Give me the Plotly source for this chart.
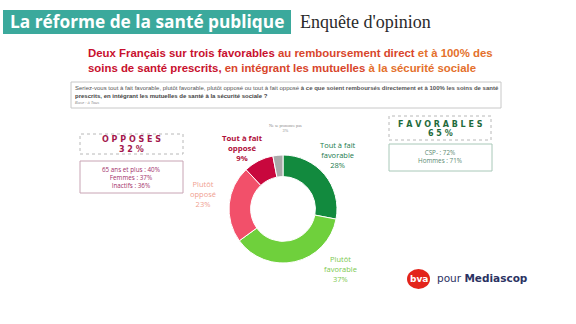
import plotly.graph_objects as go

W, H = 576, 324

# ---- data ----
categories = ["Tout à fait favorable", "Plutôt favorable", "Plutôt opposé",
              "Tout à fait opposé", "Ne se prononce pas"]
values = [28, 37, 23, 9, 3]
slice_colors = ["#128a3e", "#6fd03c", "#f2506a", "#c8073d", "#a9a9a9"]
opposes_total = 32
favorables_total = 65
opposes_details = ["65 ans et plus : 40%", "Femmes : 37%", "Inactifs : 36%"]
favorables_details = ["CSP- : 72%", "Hommes : 71%"]


def px(x):
    return x / W


def py(y):
    return 1 - y / H


fig = go.Figure()
fig.add_trace(go.Pie(
    labels=categories, values=values, hole=0.6, sort=False,
    direction="clockwise", rotation=0,
    marker=dict(colors=slice_colors, line=dict(color="white", width=1)),
    textinfo="none", hoverinfo="label+percent", showlegend=False,
    domain=dict(x=[px(229), px(337)], y=[py(263), py(155)]),
))

shapes = []
ann = []


def rect(x0, y0, x1, y1, line="#c0c0c0", dash="solid", fill="rgba(0,0,0,0)", width=1):
    shapes.append(dict(type="rect", xref="paper", yref="paper",
                       x0=px(x0), x1=px(x1), y0=py(y1), y1=py(y0),
                       line=dict(color=line, width=width, dash=dash),
                       fillcolor=fill, layer="below"))


def text(x, y, t, size, color, family="Liberation Sans", xanchor="center"):
    ann.append(dict(x=px(x), y=py(y), xref="paper", yref="paper", text=t,
                    showarrow=False, xanchor=xanchor, yanchor="middle",
                    font=dict(size=size, color=color, family=family)))


# header
rect(3, 10, 291, 34, line="#3ba99c", fill="#3ba99c", width=0)
text(147, 22, "<b>La réforme de la santé publique</b>", 17.3, "white", "Open Sans")
text(298, 22, "Enquête d'opinion", 18, "#2a2a2a", "Liberation Serif", xanchor="left")

# headline
red, mid, org = "#c8102e", "#d8452b", "#e4702c"
line1 = (f"<span style='color:{red}'>Deux Français sur trois favorables</span> "
         f"<span style='color:{mid}'>au remboursement direct</span> "
         f"<span style='color:{org}'>et à 100% des</span>")
line2 = (f"<span style='color:{red}'>soins de santé prescrits,</span> "
         f"<span style='color:{mid}'>en intégrant les mutuelles</span> "
         f"<span style='color:{org}'>à la sécurité sociale</span>")
text(86, 53, f"<b>{line1}</b>", 11.4, red, "Liberation Sans", xanchor="left")
text(86, 68, f"<b>{line2}</b>", 11.4, red, "Liberation Sans", xanchor="left")

# question box
rect(71, 82, 501, 108, line="#c8c8c8")
q1 = ("Seriez-vous tout à fait favorable, plutôt favorable, plutôt opposé ou tout à fait opposé "
      "<b>à ce que soient remboursés directement et à 100% les soins de santé</b>")
text(73, 88, q1, 6, "#555555", xanchor="left")
text(73, 96, "<b>prescrits, en intégrant les mutuelles de santé à la sécurité sociale ?</b>",
     6, "#444444", xanchor="left")
text(73, 102.5, "<i>Base : à Tous</i>", 4, "#888888", xanchor="left")

# OPPOSES boxes
rect(80, 134, 183, 154, line="#b8b8b8", dash="dot")
text(131, 140, "<b>O P P O S E S</b>", 8, "#a3174c", "DejaVu Sans")
text(131, 149, f"<b>{' '.join(str(opposes_total))} %</b>", 8, "#a3174c", "DejaVu Sans")
rect(80, 161, 183, 193, line="#c8a4b4")
text(131, 177, "<br>".join(opposes_details), 6.3, "#a3306a", "Open Sans")

# FAVORABLES boxes
rect(389, 116, 491, 140, line="#b8b8b8", dash="dot")
text(440, 125, "<b>F A V O R A B L E S</b>", 8, "#1f6b3c", "DejaVu Sans")
text(440, 133, f"<b>{' '.join(str(favorables_total))} %</b>", 8, "#1f6b3c", "DejaVu Sans")
rect(389, 144, 492, 171, line="#a8c8b8")
text(440, 156.5, "<br>".join(favorables_details), 6.3, "#5b8a72", "Open Sans")

# donut labels
lab_cols = ["#1b7a4c", "#7cc84e", "#f0a090", "#b0103a", "#888888"]
text(338, 154.5, f"Tout à fait<br>favorable<br>{values[0]}%", 7.5, lab_cols[0], "Open Sans")
text(340, 268.5, f"Plutôt<br>favorable<br>{values[1]}%", 7.5, lab_cols[1], "Open Sans")
text(203, 193.5, f"Plutôt<br>opposé<br>{values[2]}%", 7.5, lab_cols[2], "Open Sans")
text(242, 147.5, f"<b>Tout à fait<br>opposé<br>{values[3]}%</b>", 7.8, lab_cols[3], "Open Sans")
text(285, 128.3, f"Ne se prononce pas<br>{values[4]}%", 4.2, lab_cols[4], "Liberation Serif")

# logo
shapes.append(dict(type="circle", xref="paper", yref="paper",
                   x0=px(407), x1=px(430), y0=py(289), y1=py(269),
                   fillcolor="#e3241b", line=dict(color="#e3241b", width=0)))
text(418.5, 279, "<b>bva</b>", 9, "white", "DejaVu Sans")
text(435, 278, "pour <b>Mediascop</b>", 10.5, "#2b3263", "DejaVu Sans", xanchor="left")

fig.update_layout(width=W, height=H, margin=dict(l=0, r=0, t=0, b=0),
                  paper_bgcolor="white", plot_bgcolor="white",
                  shapes=shapes, annotations=ann)
fig.write_html("out.html")
